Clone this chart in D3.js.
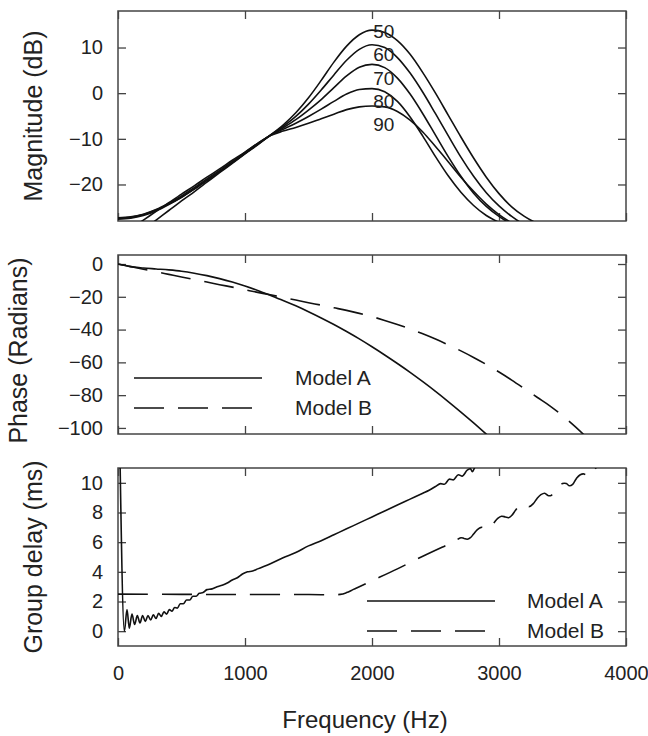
<!DOCTYPE html>
<html>
<head>
<meta charset="utf-8">
<script src="https://cdn.jsdelivr.net/npm/d3@7"></script>
<style>
  html, body { margin: 0; padding: 0; background: #fff; }
  svg { display: block; }
  text { font-family: "Liberation Sans", Arial, Helvetica, sans-serif; fill: #222; }
</style>
</head>
<body>
<script>
// ---------------- DATA ----------------
const xTicks = [0, 1000, 2000, 3000, 4000];
const magTicks = [-20, -10, 0, 10];
const phaseTicks = [-100, -80, -60, -40, -20, 0];
const delayTicks = [0, 2, 4, 6, 8, 10];

const levels = ["50", "60", "70", "80", "90"];
const levelLabelY = [13.6, 8.5, 3.2, -1.7, -6.8];

const magFreq = [0,100,200,300,400,500,600,700,800,900,1000,1100,1200,1300,1400,1500,1600,1700,
  1800,1900,2000,2100,2200,2300,2400,2500,2600,2700,2800,2900,3000,3100,3200,3300,3400];
const mag50 = [-34.0,-32.0,-29.9,-27.8,-25.7,-23.6,-21.6,-19.5,-17.4,-15.4,-13.3,-11.3,-9.2,-7.0,-4.3,-1.0,2.8,6.8,
  10.3,12.8,13.8,13.3,11.5,8.5,4.5,0.0,-4.8,-9.6,-14.2,-18.4,-22.0,-24.9,-27.0,-28.5,-29.5];
const mag60 = [-31.6,-29.7,-27.8,-25.9,-24.0,-22.1,-20.3,-18.4,-16.6,-14.7,-12.9,-11.0,-9.2,-7.3,-5.1,-2.4,0.7,4.0,
  7.2,9.6,10.6,10.0,7.8,4.4,0.2,-4.5,-9.3,-14.0,-18.2,-21.8,-24.7,-27.0,-28.8,-30.0,-31.0];
const mag70 = [-27.4,-27.2,-26.6,-25.6,-24.3,-22.8,-21.0,-19.1,-17.2,-15.2,-13.2,-11.2,-9.3,-7.6,-5.8,-3.7,-1.4,1.2,
  3.8,5.7,6.3,5.6,3.3,-0.2,-4.5,-9.2,-13.9,-18.2,-21.9,-24.8,-27.0,-28.7,-30.0,-31.0,-32.0];
const mag80 = [-27.6,-27.4,-26.8,-25.8,-24.4,-22.8,-21.0,-19.1,-17.2,-15.2,-13.2,-11.2,-9.2,-7.9,-6.6,-5.1,-3.5,-1.8,
  -0.2,0.8,1.0,0.3,-1.8,-5.2,-9.4,-13.9,-18.1,-21.7,-24.6,-26.8,-28.3,-29.5,-30.5,-31.3,-32.0];
const mag90 = [-27.3,-27.1,-26.5,-25.5,-24.1,-22.5,-20.7,-18.8,-16.9,-15.0,-13.0,-11.0,-9.3,-8.3,-7.5,-6.6,-5.6,-4.6,
  -3.6,-3.0,-2.8,-3.0,-4.0,-5.9,-8.5,-11.7,-15.0,-18.4,-21.5,-24.3,-26.6,-28.4,-29.8,-30.8,-31.5];

const phaseFreqA = [0,100,200,300,400,500,600,700,800,900,1000,1100,1200,1300,1400,1500,1600,1700,1800,1900,
  2000,2100,2200,2300,2400,2500,2600,2700,2800,2900,3000];
const phaseA = [0,-1.6,-2.4,-3.0,-3.6,-4.4,-5.6,-7.1,-8.9,-11.0,-13.4,-16.1,-19.1,-22.2,-25.5,-29.1,-32.9,-36.9,-41.2,-45.7,
  -50.5,-55.5,-60.7,-66.1,-71.8,-77.7,-83.9,-90.3,-96.9,-103.8,-110.8];
const phaseFreqB = [0,100,200,300,400,500,600,700,800,900,1000,1100,1200,1300,1400,1500,1600,1700,1800,1900,
  2000,2100,2200,2300,2400,2500,2600,2700,2800,2900,3000,3100,3200,3300,3400,3500,3600,3700];
const phaseB = [0,-1.6,-3.2,-4.7,-6.3,-7.9,-9.4,-11.0,-12.6,-14.1,-15.7,-17.3,-18.8,-20.4,-22.0,-23.6,-25.1,-26.7,-28.3,-30.1,
  -32.1,-34.4,-36.9,-39.6,-42.6,-45.8,-49.3,-53.0,-57.0,-61.3,-65.9,-70.8,-76.0,-81.3,-86.5,-92.5,-99.2,-106.5];

const delayFreqA = [15,50,71,89,110,131,152,173,194,215,236,257,278,299,320,341,362,383,404,425,446,467,490,515,540,565,
  590,615,640,670,700,740,780,820,860,900,940,980,1020,1060,1100,1200,1300,1400,1500,1600,1700,1800,1900,2000,
  2100,2200,2300,2400,2450,2500,2540,2570,2610,2640,2680,2710,2750,2775,2790,2810,2830];
const delayA = [12,0.0,1.45,0.2,1.15,0.45,1.05,0.55,1.05,0.65,1.05,0.75,1.1,0.85,1.2,1.0,1.3,1.15,1.45,1.35,1.6,1.55,1.85,1.85,2.1,2.1,
  2.35,2.35,2.55,2.6,2.8,2.85,3.0,3.1,3.25,3.45,3.6,3.85,4.0,4.05,4.2,4.55,4.95,5.3,5.75,6.1,6.5,6.9,7.3,7.7,
  8.1,8.5,8.9,9.3,9.5,9.75,9.95,9.9,10.25,10.2,10.55,10.45,10.85,10.95,10.75,11.05,11.3];
const delayFreqB = [0,500,1000,1500,1750,1800,1850,1900,2000,2200,2400,2600,2650,2700,2725,2750,2775,2800,2830,2860,2880,
  2900,2930,2960,2990,3020,3050,3075,3100,3130,3160,3190,3215,3240,3270,3300,3330,3360,3385,3410,3440,3470,3500,
  3530,3555,3580,3610,3640,3670,3695,3720,3750,3780,3810];
const delayB = [2.5,2.48,2.47,2.47,2.48,2.6,2.8,3.0,3.4,4.2,5.05,5.85,6.05,6.3,6.25,6.2,6.3,6.55,6.85,7.0,6.95,
  6.9,7.0,7.3,7.6,7.75,7.7,7.65,7.8,8.15,8.45,8.55,8.45,8.4,8.6,8.95,9.2,9.3,9.15,9.15,9.4,9.75,9.95,
  9.95,9.8,9.9,10.3,10.55,10.6,10.45,10.5,10.9,11.1,11.2];

const legendNames = ["Model A", "Model B"];

// ---------------- LAYOUT ----------------
const W = 648, H = 736;
const xL = 118, xR = 626;
const panels = {
  mag:   { top: 11,  bottom: 221, domain: [-28, 18],     ticks: magTicks,   title: "Magnitude (dB)",   titleX: 42, titleShift: 0 },
  phase: { top: 255, bottom: 434, domain: [-103.7, 5.5], ticks: phaseTicks, title: "Phase (Radians)",  titleX: 27, titleShift: 6 },
  delay: { top: 468, bottom: 646, domain: [-1, 11],      ticks: delayTicks, title: "Group delay (ms)", titleX: 42, titleShift: 0 }
};
const DASH = "30,14";
const TICK = 8;

const svg = d3.select("body").append("svg").attr("width", W).attr("height", H);
svg.append("rect").attr("width", W).attr("height", H).attr("fill", "#fff");

const x = d3.scaleLinear().domain([0, 4000]).range([xL, xR]);

function makePanel(key, p, showXLabels) {
  const y = d3.scaleLinear().domain(p.domain).range([p.bottom, p.top]);
  const g = svg.append("g");
  const clipId = "clip-" + key;
  svg.append("clipPath").attr("id", clipId).append("rect")
    .attr("x", xL).attr("y", p.top).attr("width", xR - xL).attr("height", p.bottom - p.top);

  const left = g.append("g").attr("transform", `translate(${xL},0)`)
    .call(d3.axisLeft(y).tickValues(p.ticks).tickSize(-TICK).tickPadding(15).tickFormat(d3.format("d")));
  const right = g.append("g").attr("transform", `translate(${xR},0)`)
    .call(d3.axisRight(y).tickValues(p.ticks).tickSize(-TICK).tickFormat(""));
  const top = g.append("g").attr("transform", `translate(0,${p.top})`)
    .call(d3.axisTop(x).tickValues(xTicks).tickSize(-TICK).tickFormat(""));
  const bottom = g.append("g").attr("transform", `translate(0,${p.bottom})`)
    .call(d3.axisBottom(x).tickValues(xTicks).tickSize(-TICK).tickPadding(20)
      .tickFormat(showXLabels ? d3.format("d") : ""));
  [left, right, top, bottom].forEach(a => {
    a.select(".domain").remove();
    a.selectAll("line").attr("stroke", "#444").attr("stroke-width", 1.3);
    a.selectAll("text").style("font-size", "20px").attr("fill", "#222")
      .style("font-family", '"Liberation Sans", Arial, sans-serif');
  });

  g.append("rect").attr("x", xL).attr("y", p.top).attr("width", xR - xL).attr("height", p.bottom - p.top)
    .attr("fill", "none").attr("stroke", "#444").attr("stroke-width", 1.5);

  svg.append("text")
    .attr("transform", `translate(${p.titleX},${(p.top + p.bottom) / 2 + p.titleShift}) rotate(-90)`)
    .attr("text-anchor", "middle").style("font-size", "25px").text(p.title);

  const plot = svg.append("g").attr("clip-path", `url(#${clipId})`);
  return { y, plot };
}

function drawLine(plot, y, xs, ys, dashed, curve) {
  const pts = xs.map((f, i) => [f, ys[i]]);
  plot.append("path").datum(pts)
    .attr("fill", "none").attr("stroke", "#111").attr("stroke-width", 1.6)
    .attr("stroke-linejoin", "round")
    .attr("stroke-dasharray", dashed ? DASH : null)
    .attr("d", d3.line().x(d => x(d[0])).y(d => y(d[1])).curve(curve || d3.curveMonotoneX));
}

// Magnitude panel
const pm = makePanel("mag", panels.mag, false);
[mag50, mag60, mag70, mag80, mag90].forEach(arr => drawLine(pm.plot, pm.y, magFreq, arr, false));
levels.forEach((lab, i) => {
  svg.append("text").attr("x", x(2010)).attr("y", pm.y(levelLabelY[i]))
    .attr("dy", "0.35em").style("font-size", "19px").text(lab);
});

// Phase panel
const pp = makePanel("phase", panels.phase, false);
drawLine(pp.plot, pp.y, phaseFreqA, phaseA, false);
drawLine(pp.plot, pp.y, phaseFreqB, phaseB, true);

// Group delay panel
const pd = makePanel("delay", panels.delay, true);
drawLine(pd.plot, pd.y, delayFreqA, delayA, false);
drawLine(pd.plot, pd.y, delayFreqB, delayB, true, d3.curveCatmullRom);

// Legends
function legend(x0, x1, tx, ys) {
  legendNames.forEach((name, i) => {
    svg.append("line").attr("x1", x0).attr("x2", x1).attr("y1", ys[i]).attr("y2", ys[i])
      .attr("stroke", "#111").attr("stroke-width", 1.6)
      .attr("stroke-dasharray", i === 1 ? DASH : null);
    svg.append("text").attr("x", tx).attr("y", ys[i]).attr("dy", "0.35em")
      .style("font-size", "21px").text(name);
  });
}
legend(134, 262, 295, [378, 408]);
legend(367, 495, 527, [601, 631]);

// X axis title
svg.append("text").attr("x", (xL + xR) / 2 - 7).attr("y", 728)
  .attr("text-anchor", "middle").style("font-size", "24px").text("Frequency (Hz)");
</script>
</body>
</html>
